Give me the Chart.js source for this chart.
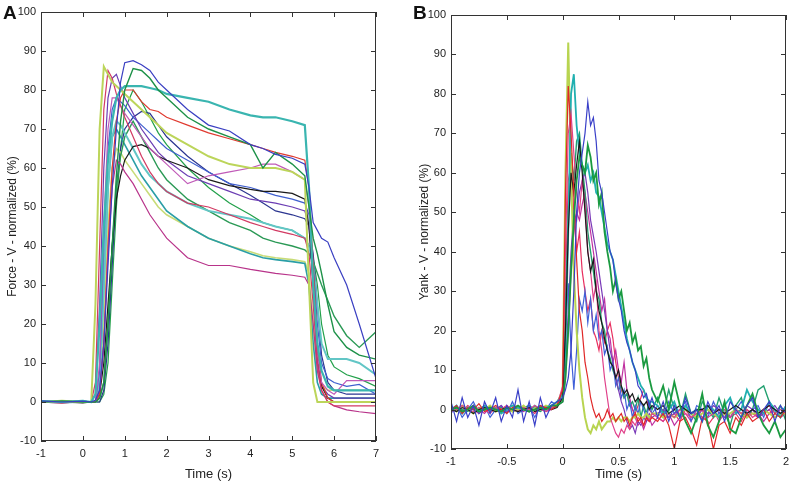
<!DOCTYPE html>
<html>
<head>
<meta charset="utf-8">
<script src="https://cdn.jsdelivr.net/npm/chart.js@4"></script>
<style>
  body { margin: 0; background: #fff; }
  #wrap { position: relative; width: 800px; height: 488px; }
  canvas { position: absolute; top: 0; }
  #chartA { left: 0; }
  #chartB { left: 400px; }
  .panel { position: absolute; top: 2px; font: bold 19px 'Liberation Sans', Arial, sans-serif; color: #111; }
</style>
</head>
<body>
<div id="wrap">
  <canvas id="chartA" width="400" height="488"></canvas>
  <canvas id="chartB" width="400" height="488"></canvas>
  <div class="panel" style="left:3px">A</div>
  <div class="panel" style="left:413px">B</div>
</div>
<script>
// ---- Panel A: force, time grid (s) ----
let timeA = [-1, -0.5, 0, 0.2, 0.3, 0.4, 0.5, 0.6, 0.7, 0.8, 0.9, 1.0, 1.2, 1.4, 1.6, 1.8, 2.0, 2.5, 3.0, 3.5,
             4.0, 4.3, 4.6, 5.0, 5.3, 5.4, 5.5, 5.6, 5.7, 5.85, 6.0, 6.3, 6.6, 7.0];

let forceBlue = [0.3,0,0.2,0,0.5,3,15,35,55,70,82,87,87.5,86.5,85,82,80,75,71,69.5,66,65,63.5,62.5,61,55,46,44,42,41,37,30,20,6];
let forceGreen = [0,0.3,0,0,0,1,5,20,40,58,72,80,85.5,85,83,80,78,73,70,68,66,60,64,61,58,50,42,38,33,25,18,14,12,11];
let forceTeal = [0.2,0,0.3,0,2,20,45,62,72,78,80,81,81,81,80.5,80,79,78,77,75,73.5,73,73,72,71,55,30,15,8,4,3,3,3,3];
let forceLime = [0,0.3,0,0,25,70,86,84,82,81,80,79,77,75,73,71,69,66,63,61,60,60,60,59,57,30,5,0,0,0,0,0,0,0];
let forceCrimson = [0,-0.3,0.2,0,5,40,75,85,83,79,76,73,68,63,59,56,54,51,50,48,46,45,44,43,42,38,25,10,3,0,-1,-1,-1,-1];
let forceMagenta = [0,0.2,0,0,0,3,15,38,55,62,61,59,56,52,48,45,42,37,35,35,34,33.5,33,32.5,32,30,20,8,3,0,-1,-2,-2.5,-3];
let forceOrchid = [0,0,0.2,0,0,10,45,70,78,78,76,74,71,68,65,63,61,56,58,59,60,61,61,59,57,50,30,12,5,3,2,5.5,5.5,5.5];
let forceRed = [0,0.2,0,0,0,2,15,40,60,72,78,80,80,77,75,74.5,73,71,69,67.5,66,65,64,63,62,55,35,15,5,1,0,0,0,0];
let forceBlack = [0,0,-0.2,0,0,2,10,25,40,52,58,62,65.5,66,65,63,62,60,57,55.5,54.5,54,54,53.5,52,45,30,12,4,1,0,0,0,0];
let forcePurple = [0,0.2,0,0,2,25,60,78,83,84,81,78,74,70,67,64,62,58,56,54,52,51.5,51,50,49,45,30,10,4,2,1,1,1,1];
let forceBlue2 = [0,0,0.3,0,0,8,40,65,75,78,77,76,73,71,69,67,65,62,59,56,55,54,53,52,51,48,35,20,10,6,5,4,4.5,2];
let forceAqua = [0.2,0,0,0,0,5,30,55,68,72,71,69,65,61,58,56,54,51,49,48,47,46,45,44,42,40,35,25,15,11,11,11,10,7];
let forceGreen3 = [0,0,0,0,0,1,5,20,40,55,63,68,72,68,64,60,57,52,49,46,44,42,41,40,39,38,36,33,30,26,22,17,14,18];
let forceTeal3 = [0,-0.2,0,0,0,5,30,55,68,70,68,66,62,58,55,52,49,45,42,40,38,37,36.5,36,35.5,30,15,5,2,1,1,1,1,1];
let forceLime2 = [0,0,0,0,0,3,20,45,60,65,64,62,59,56,53,50,48,45,42,40,38.5,37.5,37,36.5,36,33,20,8,4,3,3,3,3,3];
let forceNavy = [0,0,0,0,0,0,3,15,35,55,65,70,73,74.5,74,71,68,63,59,56,53,51,49,48,47,45,38,25,12,5,3,2,2,2];
let forceGreen4 = [0,0,0,0,0,0,2,10,30,50,65,75,80,77,73,69,66,60,55,51,48,46,45,44,42,40,37,30,20,12,9,7,6,4];

// ---- Panel B: yank, time grid (s) ----
let timeB = [-1,-0.95,-0.9,-0.85,-0.8,-0.75,-0.7,-0.65,-0.6,-0.55,-0.5,-0.45,-0.4,-0.35,-0.3,-0.25,-0.2,-0.15,-0.1,-0.05,
             0,0.025,0.05,0.075,0.1,0.125,0.15,0.175,0.2,0.225,0.25,0.275,0.3,0.325,0.35,0.375,0.4,0.425,0.45,0.475,
             0.5,0.525,0.55,0.575,0.6,0.625,0.65,0.675,0.7,0.725,0.75,0.775,0.8,
             0.85,0.9,0.95,1,1.05,1.1,1.15,1.2,1.25,1.3,1.35,1.4,1.45,1.5,1.55,1.6,1.65,1.7,1.75,1.8,1.85,1.9,1.95,2];

let yankLime = [0.5,-0.5,1,0,-1,0.5,0,1,-0.5,0,0.5,-0.5,0,1,-0.5,0.5,0,1,0.5,1.5,
  5,60,93,60,35,20,10,3,-2,-5,-6,-4,-5,-3,-5,-4,-3,-3,-2,-3,-2,-3,-2,-2,-3,-2,-2,-1,-2,-2,-1,-2,-1,
  -1,-2,-1,-2,-1,0,-1,-2,-1,0,-1,-2,-1,-1,0,-1,-2,-1,-1,0,-1,-2,-1,-1];
let yankTeal = [0,1,-1,0.5,0,-0.5,1,0,0.5,-1,0,1,0.5,0,-0.5,1,0,0.5,1,2,
  4,15,45,80,85,72,65,62,60,62,58,60,55,54,50,46,42,40,38,34,30,26,22,18,15,12,10,8,6,5,3,2,2,
  1,-1,0,2,-2,1,-1,0,-3,1,0,-2,1,3,-1,0,5,2,0,-1,2,0,-2,1];
let yankBlue = [2,-3,3,-2,1,-4,2,-1,3,-3,1,-2,5,-3,2,-4,3,-2,1,2,
  3,5,8,15,30,50,60,65,70,78,72,74,68,58,55,50,45,40,38,32,28,25,20,17,15,12,10,6,5,3,4,1,3,
  -2,2,-3,1,-2,3,-1,0,-3,2,-1,1,-3,2,0,-2,1,3,-2,0,2,-3,1,-1];
let yankGreen = [0,0.5,-0.5,0,1,-0.5,0,0.5,0,-0.5,0.5,0,1,0,-0.5,0,0.5,0,1,1,
  2,8,20,35,48,58,64,62,60,67,64,58,60,52,55,45,40,36,30,33,28,30,25,20,22,17,19,15,16,11,13,8,5,
  2,6,0,7,1,-3,-6,-2,4,-4,-7,-3,2,-5,-6,-2,1,4,-1,-4,-6,-3,-7,-5];
let yankRed = [0,1,-1,0.5,0,1.5,-0.5,0,1,0,-1,0.5,1,0,-0.5,0,1,0.5,0,1,
  5,55,82,70,55,38,25,20,12,8,3,0,-2,-1,-3,-2,0,-2,-1,-3,-2,-1,-3,-2,-4,-2,-1,-3,-2,-4,-2,-3,-2,
  -3,-1,-4,-10,-3,-2,-5,-9,-2,-3,-10,-4,-3,-6,-2,-4,-1,-3,-2,0,-3,-1,-2,0];
let yankPink = [-0.5,0,1,0,-0.5,0.5,0,-1,0.5,0,1,0,-0.5,0.5,0,1,0,-0.5,0.5,1,
  6,40,70,75,65,55,50,58,52,40,35,28,32,20,15,8,3,-2,-4,-6,-7,-5,-6,-4,-5,-3,-4,-2,-3,-4,-2,-3,-1,
  -2,-3,-1,-2,0,-1,-2,-1,0,-2,-1,0,-1,-2,0,-1,0,-2,-1,0,1,-1,0,-1];
let yankBlack = [0,-0.5,0.5,0,-1,0,0.5,0,-0.5,0,0.5,0,-0.5,0,0.5,-0.5,0,0.5,0,0.5,
  3,20,45,60,55,62,68,60,50,40,35,38,30,25,22,18,15,12,11,8,10,6,4,5,3,4,2,3,2,1,2,0,1,
  0,1,-1,0,1,0,-1,0,0,1,-1,0,-1,0,1,0,-1,0,-1,0,1,0,-1,0];
let yankPurple = [0.5,0,-0.5,0,0.5,-1,0,0.5,0,1,-0.5,0,0.5,0,-0.5,0,1,0,0.5,1,
  2,10,25,40,50,48,55,58,60,55,48,44,40,35,30,25,20,15,12,8,5,2,0,-3,-5,-4,-6,-3,-4,-2,-3,-1,-2,
  -1,0,-2,-1,0,1,-1,-2,0,-1,1,0,-2,-1,0,-1,1,0,-2,-1,0,1,-1,0];
let yankBlue2 = [-1,1,-2,0,2,-1,1,-2,0,1,-1,2,-1,0,1,-2,1,0,2,1,
  5,20,32,15,5,15,28,25,30,22,28,20,24,18,20,14,16,10,12,6,8,3,5,0,2,-2,1,-1,2,0,-2,1,-1,
  1,-2,2,-1,0,2,-3,1,0,-2,2,-1,1,-2,0,2,-1,0,1,-2,2,0,-1,1];
let yankGreen2 = [0,0.5,0,-0.5,0.5,0,1,-0.5,0,0.5,0,-0.5,0,0.5,1,0,-0.5,0.5,0,1,
  4,25,50,65,58,68,70,62,55,45,40,35,30,28,22,20,15,13,10,8,5,6,3,4,1,2,0,3,-2,1,-1,2,0,
  3,-1,5,0,-2,4,-1,-3,2,0,-2,3,-1,-4,1,3,-2,0,5,6,2,-1,1,-3];
let yankOrchid = [0,0.5,-0.5,0,1,0,-1,0.5,0,-0.5,0,1,0,-0.5,0.5,0,0.5,-0.5,0,1,
  2,8,20,35,45,50,48,52,55,50,45,40,35,30,25,28,20,18,12,15,10,7,12,5,3,0,-2,-4,-3,-5,-3,-2,-4,
  -2,-3,-1,-4,-2,-1,-3,0,-2,-1,0,-3,-1,-2,0,-1,-2,0,-1,-3,-1,0,-2,-1];
let yankRose = [0.5,0,-0.5,1,0,-1,0,0.5,-0.5,0,1,-0.5,0,0.5,0,-1,0.5,0,1,1.5,
  3,30,58,62,50,40,45,35,30,25,28,20,18,15,20,17,20,22,18,12,8,5,3,4,2,0,-1,1,3,5,3,0,-1,
  -1,0,-2,-1,-3,0,-2,-1,0,-4,-2,-1,0,-2,-1,-3,0,-1,-2,-1,0,-2,-1,0];

let ticksA = { xMin: -1, xMax: 7, xStep: 1, yMin: -10, yMax: 100, yStep: 10 };
let ticksB = { xMin: -1, xMax: 2, xStep: 0.5, yMin: -10, yMax: 100, yStep: 10 };

Chart.defaults.font.family = "'Liberation Sans', Arial, sans-serif";
Chart.defaults.color = "#222";

function line(times, values, color, width) {
    return {
        data: times.map((t, i) => ({ x: t, y: values[i] })),
        borderColor: color,
        borderWidth: width || 1.2,
        pointRadius: 0,
        tension: 0,
        fill: false
    };
}

// matlab style box with inward ticks on all sides
const boxTicks = {
    id: "boxTicks",
    afterDraw(chart) {
        let ctx = chart.ctx, a = chart.chartArea, x = chart.scales.x, y = chart.scales.y;
        ctx.save();
        ctx.strokeStyle = "#333";
        ctx.lineWidth = 1;
        ctx.strokeRect(a.left + 0.5, a.top + 0.5, a.right - a.left - 1, a.bottom - a.top - 1);
        ctx.beginPath();
        x.ticks.forEach(t => {
            let px = Math.round(x.getPixelForValue(t.value)) + 0.5;
            ctx.moveTo(px, a.bottom); ctx.lineTo(px, a.bottom - 5);
            ctx.moveTo(px, a.top); ctx.lineTo(px, a.top + 5);
        });
        y.ticks.forEach(t => {
            let py = Math.round(y.getPixelForValue(t.value)) + 0.5;
            ctx.moveTo(a.left, py); ctx.lineTo(a.left + 5, py);
            ctx.moveTo(a.right, py); ctx.lineTo(a.right - 5, py);
        });
        ctx.stroke();
        ctx.restore();
    }
};

function makeChart(id, datasets, t, yTitle, pad, yWidth, xHeight) {
    return new Chart(document.getElementById(id), {
        type: "line",
        data: { datasets: datasets },
        options: {
            responsive: false,
            animation: false,
            layout: { padding: pad },
            plugins: { legend: { display: false }, tooltip: { enabled: false } },
            scales: {
                x: {
                    type: "linear", min: t.xMin, max: t.xMax,
                    grid: { display: false, drawTicks: false },
                    border: { display: false },
                    ticks: { stepSize: t.xStep, padding: 6, font: { size: 11 }, maxRotation: 0,
                             callback: v => String(Math.round(v * 10) / 10) },
                    title: { display: true, text: "Time (s)", font: { size: 13 }, padding: { top: 0, bottom: 6 } },
                    afterFit: s => { s.height = xHeight; }
                },
                y: {
                    min: t.yMin, max: t.yMax,
                    grid: { display: false, drawTicks: false },
                    border: { display: false },
                    ticks: { stepSize: t.yStep, padding: 5, font: { size: 11 } },
                    title: { display: true, text: yTitle, font: { size: 12 }, padding: { top: 5, bottom: 0 } },
                    afterFit: s => { s.width = yWidth; }
                }
            }
        },
        plugins: [boxTicks]
    });
}

makeChart("chartA", [
    line(timeA, forceBlue, "#3a3fc2"),
    line(timeA, forceGreen, "#1d9148", 1.4),
    line(timeA, forceTeal, "#3ab5b0", 2.2),
    line(timeA, forceLime, "#bcd55a", 2),
    line(timeA, forceCrimson, "#d23a63"),
    line(timeA, forceMagenta, "#b8338a"),
    line(timeA, forceOrchid, "#c05ab8"),
    line(timeA, forceRed, "#e03a30"),
    line(timeA, forceBlack, "#1a1a1a"),
    line(timeA, forcePurple, "#6b3db3"),
    line(timeA, forceBlue2, "#3f5fcf"),
    line(timeA, forceAqua, "#62c6c6", 2),
    line(timeA, forceGreen3, "#2a9955", 1.4),
    line(timeA, forceTeal3, "#2a9ea6", 1.6),
    line(timeA, forceLime2, "#c8dc78", 1.6),
    line(timeA, forceNavy, "#2b3590"),
    line(timeA, forceGreen4, "#22a04a")
], ticksA, "Force - V - normalized (%)", { left: 0, right: 24, top: 12, bottom: 0 }, 41, 47);

makeChart("chartB", [
    line(timeB, yankBlue, "#3a40c8"),
    line(timeB, yankGreen, "#1a9a40", 1.8),
    line(timeB, yankRed, "#e02828"),
    line(timeB, yankBlack, "#1a1a1a"),
    line(timeB, yankPink, "#e0408a"),
    line(timeB, yankTeal, "#20b0b0", 1.8),
    line(timeB, yankLime, "#b8d450", 2),
    line(timeB, yankPurple, "#7a3ab8"),
    line(timeB, yankBlue2, "#4060d8"),
    line(timeB, yankGreen2, "#22a070", 1.4),
    line(timeB, yankOrchid, "#c030a0"),
    line(timeB, yankRose, "#e83060")
], ticksB, "Yank - V - normalized (%)", { left: 12, right: 14, top: 15, bottom: 0 }, 39, 39);
</script>
</body>
</html>
